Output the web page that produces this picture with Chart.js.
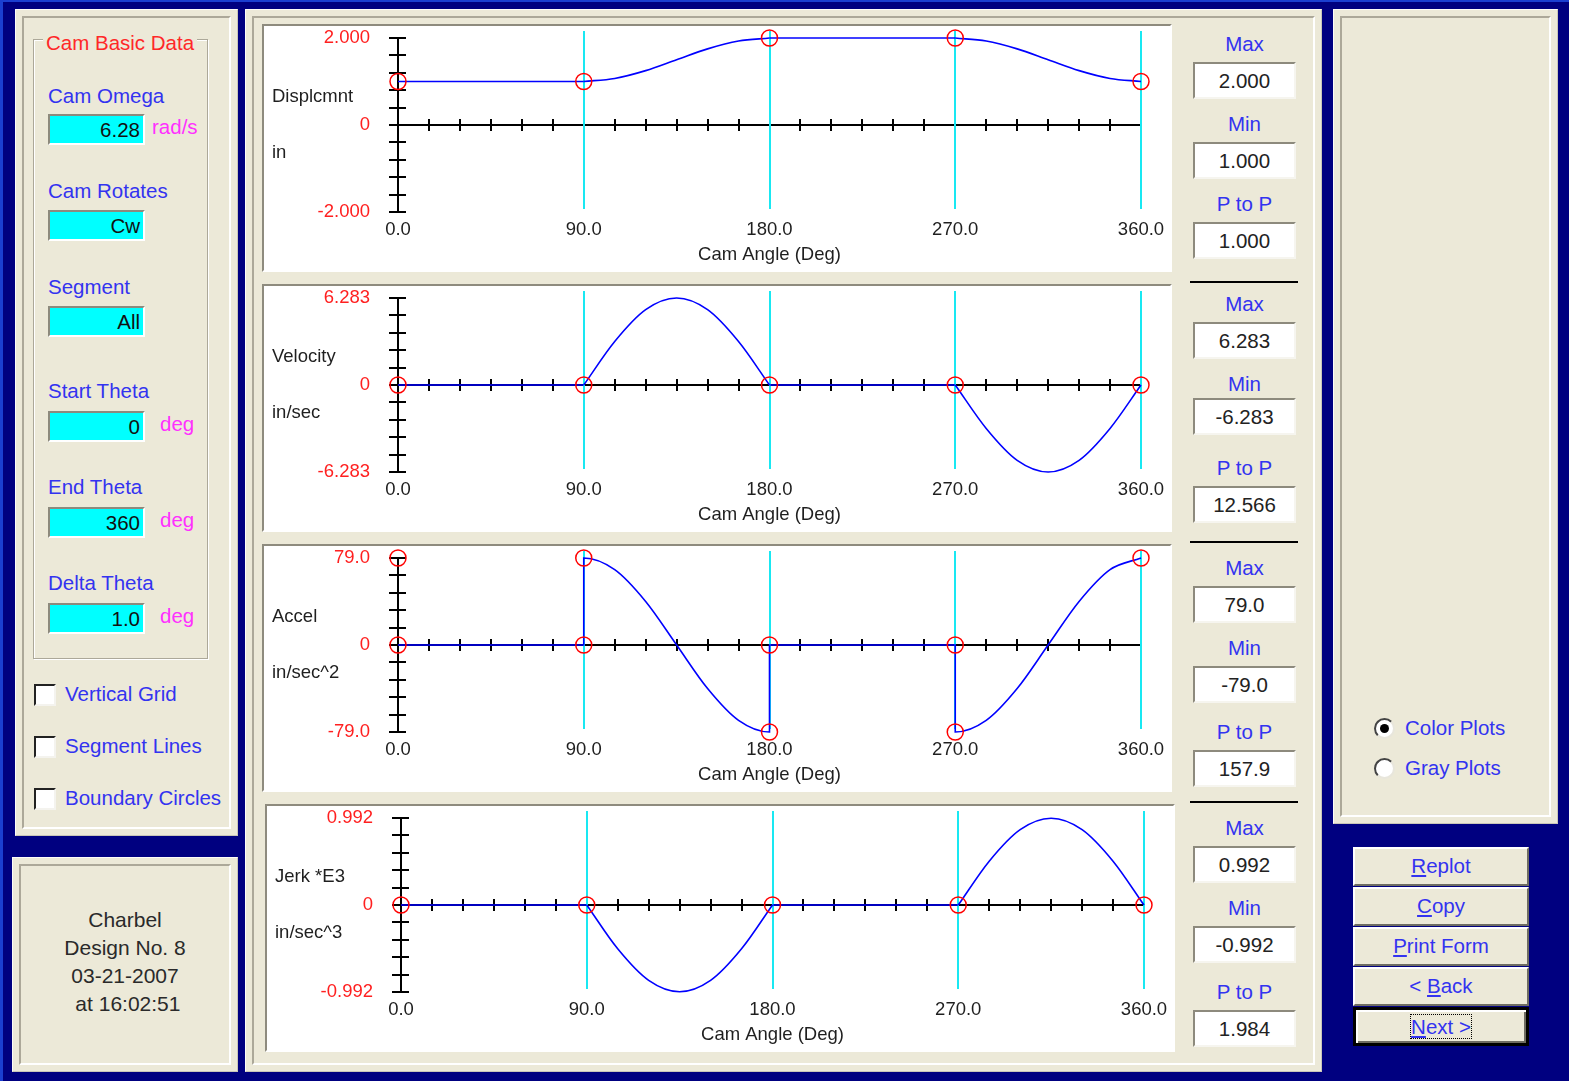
<!DOCTYPE html>
<html>
<head>
<meta charset="utf-8">
<script src="https://cdn.jsdelivr.net/npm/chart.js@4.4.1/dist/chart.umd.min.js"></script>
<style>
body { margin: 0; width: 1569px; height: 1081px; background: #000080; overflow: hidden; position: relative;
       font-family: "Liberation Sans", Arial, sans-serif; }
.panel { position: absolute; background: #ECE9D8; box-sizing: border-box; border: 1px solid;
         border-color: #FDFCF8 #C9C6B8 #C9C6B8 #FDFCF8; }
.etch { position: absolute; left: 6px; top: 6px; right: 6px; bottom: 6px; border: 2px solid;
        border-color: #ACA899 #FFFFFF #FFFFFF #ACA899; }
.group { position: absolute; box-sizing: border-box; border: 1px solid #ACA899; box-shadow: inset 1px 1px 0 #fff, 1px 1px 0 #fff; }
.lbl { position: absolute; color: #3333F0; font-size: 20.5px; line-height: 22px; white-space: nowrap; }
.unit { position: absolute; color: #FF30FF; font-size: 20.5px; line-height: 22px; }
.field { position: absolute; box-sizing: border-box; background: #00FFFF; border: 2px solid;
         border-color: #8D8A7D #FFFFFF #FFFFFF #8D8A7D; font-size: 20.5px; text-align: right; padding-right: 3px;
         color: #111; line-height: 28px; left: 48px; width: 97px; height: 31px; }
.val { position: absolute; box-sizing: border-box; background: #FFFFFF; border: 2px solid;
       border-color: #8D8A7D #F6F5EF #F6F5EF #8D8A7D; font-size: 20.5px; text-align: center;
       color: #222; line-height: 33px; left: 1193px; width: 103px; height: 37px; }
.cap { position: absolute; left: 1193px; width: 103px; text-align: center; color: #3333F0; font-size: 20.5px; line-height: 22px; }
.sep { position: absolute; left: 1190px; width: 108px; height: 2px; background: #000; }
.chk { position: absolute; left: 34px; width: 22px; height: 22px; box-sizing: border-box; background: #fff;
       border: 2px solid; border-color: #222 #F4F3EE #F4F3EE #222; }
.plotbox { position: absolute; width: 910px; height: 248px; box-sizing: border-box; background: #fff;
           border: 2px solid; border-color: #8E8B7E #FFFFFF #FFFFFF #8E8B7E; }
.plotbox canvas { position: absolute; left: 0; top: 0; }
.ylab { position: absolute; left: 8px; font-size: 18.5px; line-height: 22px; color: #1f1f1f; white-space: nowrap; }
.radio { position: absolute; left: 1374px; width: 21px; height: 21px; border-radius: 50%; box-sizing: border-box;
         background: #fff; border: 2px solid; border-color: #444 #E8E6DC #E8E6DC #444; }
.radio.on::after { content: ""; position: absolute; left: 4px; top: 4px; width: 9px; height: 9px; border-radius: 50%; background: #000; }
.btn { position: absolute; left: 1353px; width: 176px; height: 39px; box-sizing: border-box; background: #ECE9D8;
       border: 2px solid; border-color: #FFFFFF #6E6C62 #6E6C62 #FFFFFF; color: #3333F0; font-size: 20.5px;
       text-align: center; line-height: 34px; }
.btn.def { border: 3px solid #000; box-shadow: inset 2px 2px 0 #fff, inset -2px -2px 0 #6E6C62; line-height: 33px; }
.focus { outline: 1px dotted #000; outline-offset: 0; }
</style>
</head>
<body>
<div style="position:absolute;left:0;top:0;width:1569px;height:2px;background:#1B3FD0"></div>
<div style="position:absolute;left:0;top:0;width:3px;height:1081px;background:#1B3FD0"></div>

<!-- left panel -->
<div class="panel" style="left:15px;top:9px;width:223px;height:827px"><div class="etch"></div></div>
<div class="group" style="left:33px;top:39px;width:175px;height:620px"></div>
<div class="lbl" style="left:43px;top:32px;padding:0 3px;background:#ECE9D8;color:#FF2828">Cam Basic Data</div>

<div class="lbl" style="left:48px;top:85px">Cam Omega</div>
<div class="field" style="top:114px">6.28</div>
<div class="unit" style="left:152px;top:116px">rad/s</div>

<div class="lbl" style="left:48px;top:180px">Cam Rotates</div>
<div class="field" style="top:210px">Cw</div>

<div class="lbl" style="left:48px;top:276px">Segment</div>
<div class="field" style="top:306px">All</div>

<div class="lbl" style="left:48px;top:380px">Start Theta</div>
<div class="field" style="top:411px">0</div>
<div class="unit" style="left:160px;top:413px">deg</div>

<div class="lbl" style="left:48px;top:476px">End Theta</div>
<div class="field" style="top:507px">360</div>
<div class="unit" style="left:160px;top:509px">deg</div>

<div class="lbl" style="left:48px;top:572px">Delta Theta</div>
<div class="field" style="top:603px">1.0</div>
<div class="unit" style="left:160px;top:605px">deg</div>

<div class="chk" style="top:684px"></div><div class="lbl" style="left:65px;top:683px">Vertical Grid</div>
<div class="chk" style="top:736px"></div><div class="lbl" style="left:65px;top:735px">Segment Lines</div>
<div class="chk" style="top:788px"></div><div class="lbl" style="left:65px;top:787px">Boundary Circles</div>

<!-- bottom left panel -->
<div class="panel" style="left:12px;top:857px;width:226px;height:215px"><div class="etch"></div></div>
<div style="position:absolute;left:12px;top:906px;width:226px;text-align:center;font-size:21px;line-height:28px;color:#2a2a2a">
Charbel<br>Design No. 8<br>03-21-2007<br>&nbsp;at 16:02:51</div>

<!-- middle panel -->
<div class="panel" style="left:245px;top:9px;width:1077px;height:1063px"><div class="etch"></div></div>
<div id="plots"></div>
<div id="stats"></div>

<!-- right panel -->
<div class="panel" style="left:1333px;top:9px;width:225px;height:815px"><div class="etch"></div></div>
<div class="radio on" style="top:718px"></div><div class="lbl" style="left:1405px;top:717px">Color Plots</div>
<div class="radio" style="top:758px"></div><div class="lbl" style="left:1405px;top:757px">Gray Plots</div>

<div class="btn" style="top:847px"><u>R</u>eplot</div>
<div class="btn" style="top:887px"><u>C</u>opy</div>
<div class="btn" style="top:927px"><u>P</u>rint Form</div>
<div class="btn" style="top:967px">&lt; <u>B</u>ack</div>
<div class="btn def" style="top:1007px"><span class="focus"><u>N</u>ext &gt;</span></div>

<script>
// cam angle grid (deg), 15 deg steps
const angles = [0, 15, 30, 45, 60, 75, 90, 105, 120, 135, 150, 165, 180,
                195, 210, 225, 240, 255, 270, 285, 300, 315, 330, 345, 360];
const displacement = [1, 1, 1, 1, 1, 1, 1, 1.07, 1.25, 1.50, 1.75, 1.93, 2.00,
                      2, 2, 2, 2, 2, 2, 1.93, 1.75, 1.50, 1.25, 1.07, 1.00];
const velocity = [0, 0, 0, 0, 0, 0, 0, 3.14, 5.44, 6.28, 5.44, 3.14, 0,
                  0, 0, 0, 0, 0, 0, -3.14, -5.44, -6.28, -5.44, -3.14, 0];
const jerk = [0, 0, 0, 0, 0, 0, 0, -0.50, -0.86, -0.99, -0.86, -0.50, 0,
              0, 0, 0, 0, 0, 0, 0.50, 0.86, 0.99, 0.86, 0.50, 0];

// accel has jumps at the segment ends, so the angles repeat there
const accelAngles = [0, 15, 30, 45, 60, 75, 90,
                     90, 105, 120, 135, 150, 165, 180,
                     180, 195, 210, 225, 240, 255, 270,
                     270, 285, 300, 315, 330, 345, 360];
const accel = [0, 0, 0, 0, 0, 0, 0,
               79, 68.4, 39.5, 0, -39.5, -68.4, -79,
               0, 0, 0, 0, 0, 0, 0,
               -79, -68.4, -39.5, 0, 39.5, 68.4, 79];

// boundary circles
const boundaryAngles = [0, 90, 180, 270, 360];
const dispBoundary = [1, 1, 2, 2, 1];
const velBoundary = [0, 0, 0, 0, 0];
const accelBoundaryAngles = [0, 0, 90, 90, 180, 180, 270, 270, 360];
const accelBoundary = [79, 0, 0, 79, -79, 0, 0, -79, 79];
const jerkBoundary = [0, 0, 0, 0, 0];

const segmentAngles = [90, 180, 270, 360];
const angleTicks = [0, 90, 180, 270, 360];

const yLimits = [2.0, 6.283, 79.0, 0.992];
const yDecimals = [3, 3, 1, 3];
const yNames = ['Displcmnt', 'Velocity', 'Accel', 'Jerk *E3'];
const yUnits = ['in', 'in/sec', 'in/sec^2', 'in/sec^3'];

const maxText = ['2.000', '6.283', '79.0', '0.992'];
const minText = ['1.000', '-6.283', '-79.0', '-0.992'];
const ptpText = ['1.000', '12.566', '157.9', '1.984'];

Chart.defaults.font.family = '"Liberation Sans", Arial, sans-serif';
Chart.defaults.font.size = 18.5;
Chart.defaults.color = '#1f1f1f';

function zip(xs, ys) {
    return xs.map(function (a, i) { return { x: a, y: ys[i] }; });
}

// one dataset per motion segment, so the kinks at the boundaries stay sharp
function splitBySegment(xs, ys) {
    var out = [];
    for (var s = 0; s < boundaryAngles.length - 1; s++) {
        var pts = [];
        for (var i = 0; i < xs.length; i++) {
            if (xs[i] >= boundaryAngles[s] && xs[i] <= boundaryAngles[s + 1]) pts.push({ x: xs[i], y: ys[i] });
        }
        out.push(pts);
    }
    return out;
}

// crossing axes with tick marks, and the cyan segment lines
const crossAxes = {
    id: 'crossAxes',
    beforeDatasetsDraw: function (chart) {
        const ctx = chart.ctx, x = chart.scales.x, y = chart.scales.y;
        const x0 = Math.round(x.getPixelForValue(0));
        const xEnd = Math.round(x.getPixelForValue(360));
        const y0 = Math.round(y.getPixelForValue(0));
        const yTop = Math.round(y.getPixelForValue(y.max));
        const yBot = Math.round(y.getPixelForValue(y.min));
        ctx.save();
        ctx.lineWidth = 2;
        ctx.strokeStyle = '#000';
        ctx.beginPath();
        ctx.moveTo(x0, yTop); ctx.lineTo(x0, yBot);
        ctx.moveTo(x0, y0); ctx.lineTo(xEnd, y0);
        for (var i = 0; i <= 10; i++) {
            var py = Math.round(y.getPixelForValue(y.min + (y.max - y.min) * i / 10));
            ctx.moveTo(x0 - 9, py); ctx.lineTo(x0 + 8, py);
        }
        for (var a = 15; a <= 360; a += 15) {
            var px = Math.round(x.getPixelForValue(a));
            ctx.moveTo(px, y0 - 6); ctx.lineTo(px, y0 + 6);
        }
        ctx.stroke();
        ctx.strokeStyle = '#19E8F2';
        ctx.beginPath();
        segmentAngles.forEach(function (a) {
            var px = Math.round(x.getPixelForValue(a));
            ctx.moveTo(px, yTop - 7); ctx.lineTo(px, yBot - 3);
        });
        ctx.stroke();
        ctx.restore();
    }
};

const plots = [
    { left: 262, top: 24,  lines: splitBySegment(angles, displacement), circles: zip(boundaryAngles, dispBoundary) },
    { left: 262, top: 284, lines: splitBySegment(angles, velocity),     circles: zip(boundaryAngles, velBoundary) },
    { left: 262, top: 544, lines: [zip(accelAngles, accel)],            circles: zip(accelBoundaryAngles, accelBoundary) },
    { left: 265, top: 804, lines: splitBySegment(angles, jerk),         circles: zip(boundaryAngles, jerkBoundary) }
];

// right column positions: max label, max box, min label, min box, p-p label, p-p box
const statRows = [
    [44, 62, 124, 142, 204, 222],
    [304, 322, 384, 398, 468, 486],
    [568, 586, 648, 666, 732, 750],
    [828, 846, 908, 926, 992, 1010]
];

const plotsEl = document.getElementById('plots');
const statsEl = document.getElementById('stats');

plots.forEach(function (p, k) {
    const box = document.createElement('div');
    box.className = 'plotbox';
    box.style.left = p.left + 'px';
    box.style.top = p.top + 'px';
    const canvas = document.createElement('canvas');
    canvas.width = 906;
    canvas.height = 244;
    box.appendChild(canvas);
    const n1 = document.createElement('div');
    n1.className = 'ylab'; n1.style.top = '59px'; n1.textContent = yNames[k];
    const n2 = document.createElement('div');
    n2.className = 'ylab'; n2.style.top = '115px'; n2.textContent = yUnits[k];
    box.appendChild(n1);
    box.appendChild(n2);
    plotsEl.appendChild(box);

    const lim = yLimits[k], dec = yDecimals[k];
    const datasets = [{
        data: p.circles,
        showLine: false,
        pointRadius: 8,
        pointBorderWidth: 1.5,
        pointBorderColor: '#FF0000',
        pointBackgroundColor: 'rgba(0,0,0,0)',
        clip: false
    }];
    p.lines.forEach(function (pts) {
        datasets.push({
            data: pts,
            borderColor: '#0000FF',
            borderWidth: 1.6,
            pointRadius: 0,
            fill: false,
            cubicInterpolationMode: 'monotone',
            clip: 4
        });
    });

    new Chart(canvas.getContext('2d'), {
        type: 'line',
        data: { datasets: datasets },
        options: {
            responsive: false,
            animation: false,
            events: [],
            layout: { padding: { top: 12, right: 29, left: 0, bottom: 0 } },
            plugins: { legend: { display: false }, tooltip: { enabled: false } },
            scales: {
                x: {
                    type: 'linear', min: 0, max: 360,
                    grid: { display: false, drawTicks: false },
                    border: { display: false },
                    afterBuildTicks: function (s) { s.ticks = angleTicks.map(function (v) { return { value: v }; }); },
                    afterFit: function (s) { s.height = 58; s.paddingLeft = 0; s.paddingRight = 0; },
                    ticks: { padding: 7, autoSkip: false, maxRotation: 0, color: '#1f1f1f',
                             callback: function (v) { return Number(v).toFixed(1); } },
                    title: { display: true, text: 'Cam Angle (Deg)', color: '#1f1f1f', padding: { top: 0, bottom: 4 } }
                },
                y: {
                    type: 'linear', min: -lim, max: lim,
                    grid: { display: false, drawTicks: false },
                    border: { display: false },
                    afterBuildTicks: function (s) { s.ticks = [{ value: -lim }, { value: 0 }, { value: lim }]; },
                    afterFit: function (s) { s.width = 134; s.paddingTop = 0; s.paddingBottom = 0; },
                    ticks: { padding: 28, color: '#FF2020',
                             callback: function (v) { return v === 0 ? '0' : Number(v).toFixed(dec); } }
                }
            }
        },
        plugins: [crossAxes]
    });

    // Max / Min / P to P column
    const r = statRows[k];
    const items = [['Max', maxText[k]], ['Min', minText[k]], ['P to P', ptpText[k]]];
    items.forEach(function (it, j) {
        const cap = document.createElement('div');
        cap.className = 'cap';
        cap.style.top = (r[j * 2] - 11) + 'px';
        cap.textContent = it[0];
        const val = document.createElement('div');
        val.className = 'val';
        val.style.top = r[j * 2 + 1] + 'px';
        val.textContent = it[1];
        statsEl.appendChild(cap);
        statsEl.appendChild(val);
    });
    if (k > 0) {
        const sep = document.createElement('div');
        sep.className = 'sep';
        sep.style.top = (p.top - 3) + 'px';
        statsEl.appendChild(sep);
    }
});
</script>
</body>
</html>
